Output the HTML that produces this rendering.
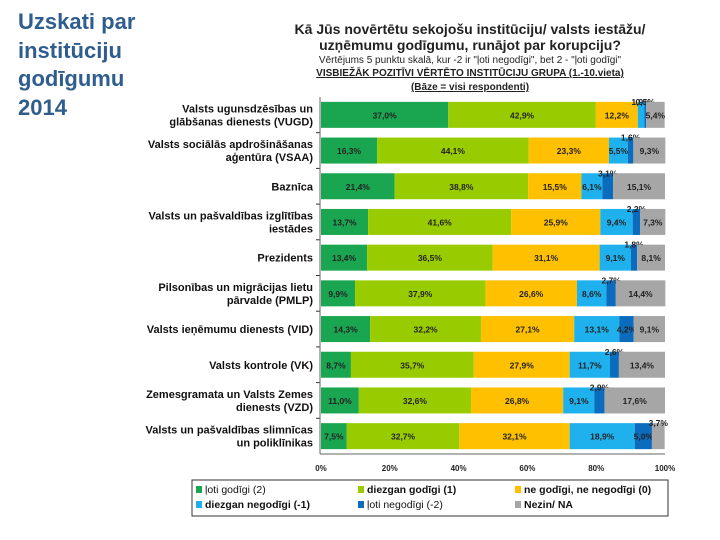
<!DOCTYPE html>
<html><head><meta charset="utf-8">
<style>
body{margin:0;background:#fff;width:720px;height:540px;overflow:hidden;font-family:"Liberation Sans",sans-serif}
#side{position:absolute;left:18px;top:8px;color:#2f5e8e;font-weight:bold;font-size:22px;line-height:28.5px}
</style></head><body>
<div id="side">Uzskati par<br>institūciju<br>godīgumu<br>2014</div>
<svg id="c" width="720" height="540" style="position:absolute;left:0;top:0">
<g font-family="Liberation Sans, sans-serif" text-anchor="middle" fill="#222">
<text x="470" y="34" font-size="14" font-weight="bold">Kā Jūs novērtētu sekojošu institūciju/ valsts iestāžu/</text>
<text x="470" y="50" font-size="14" font-weight="bold">uzņēmumu godīgumu, runājot par korupciju?</text>
<text x="470" y="63" font-size="10">Vērtējums 5 punktu skalā, kur -2 ir "ļoti negodīgi", bet 2 - "ļoti godīgi"</text>
<text x="470" y="76" font-size="10" font-weight="bold" text-decoration="underline">VISBIEŽĀK POZITĪVI VĒRTĒTO INSTITŪCIJU GRUPA (1.-10.vieta)</text>
<text x="470" y="90" font-size="10" font-weight="bold" text-decoration="underline">(Bāze = visi respondenti)</text>
</g>
<g id="plot"></g>
<g id="legend" font-family="Liberation Sans, sans-serif" font-size="10.5" fill="#111">
<rect x="192" y="480" width="476" height="36" fill="#fff" stroke="#333" stroke-width="1"/>
</g>
</svg>
<script>
const categories=["Valsts ugunsdzēsības un|glābšanas dienests (VUGD)","Valsts sociālās apdrošināšanas|aģentūra (VSAA)","Baznīca","Valsts un pašvaldības izglītības|iestādes","Prezidents","Pilsonības un migrācijas lietu|pārvalde (PMLP)","Valsts ieņēmumu dienests (VID)","Valsts kontrole (VK)","Zemesgramata un Valsts Zemes|dienests (VZD)","Valsts un pašvaldības slimnīcas|un poliklīnikas"];
const veryHonest=[37.0,16.3,21.4,13.7,13.4,9.9,14.3,8.7,11.0,7.5];
const fairlyHonest=[42.9,44.1,38.8,41.6,36.5,37.9,32.2,35.7,32.6,32.7];
const neutral=[12.2,23.3,15.5,25.9,31.1,26.6,27.1,27.9,26.8,32.1];
const fairlyDishonest=[1.9,5.5,6.1,9.4,9.1,8.6,13.1,11.7,9.1,18.9];
const veryDishonest=[0.5,1.6,3.1,2.2,1.8,2.7,4.2,2.6,2.9,5.0];
const dontKnow=[5.4,9.3,15.1,7.3,8.1,14.4,9.1,13.4,17.6,3.7];
const seriesNames=["ļoti godīgi (2)","diezgan godīgi (1)","ne godīgi, ne negodīgi (0)","diezgan negodīgi (-1)","ļoti negodīgi (-2)","Nezin/ NA"];
const xTicks=[0,20,40,60,80,100];
const series=[veryHonest,fairlyHonest,neutral,fairlyDishonest,veryDishonest,dontKnow];
const colors=["#1aa650","#99cc00","#ffc000","#1fb1ee","#0b6bbd","#a6a6a6"];
const NS="http://www.w3.org/2000/svg";
const X0=321,X1=665,Y0=97,Y1=454;
const n=categories.length,band=(Y1-Y0)/n,bh=26;
const xs=v=>X0+(X1-X0)*v/100;
const yc=i=>Y0+band*(i+0.5);
const plot=document.getElementById('plot');
function mk(t,a,p){const e=document.createElementNS(NS,t);for(const k in a)e.setAttribute(k,a[k]);(p||plot).appendChild(e);return e;}
const fmt=v=>v.toFixed(1).replace('.',',')+'%';
categories.forEach((c,i)=>{
  let acc=0;
  series.forEach((s,j)=>{
    const v=s[i];
    const r=mk('rect',{x:xs(acc),y:yc(i)-bh/2,width:xs(acc+v)-xs(acc),height:bh,fill:colors[j]});
    
    
    const mid=xs(acc+v/2);
    const small=v<4;
    const t=mk('text',{x:mid,y:small?yc(i)-bh/2+3:yc(i)+3.5,'font-size':8.5,'font-weight':'bold','text-anchor':'middle',fill:'#222','font-family':'Liberation Sans, sans-serif'});
    t.textContent=fmt(v);
    
    
    acc+=v;
  });
  const lines=c.split('|');
  lines.forEach((ln,k)=>{
    const t=mk('text',{x:313,y:yc(i)+4+(k-(lines.length-1)/2)*13,'font-size':11,'font-weight':'bold','text-anchor':'end',fill:'#111','font-family':'Liberation Sans, sans-serif'});
    t.textContent=ln;
    
    
  });
  if(i>0){mk('line',{x1:316,x2:320,y1:Y0+band*i,y2:Y0+band*i,stroke:'#333'});}
});
mk('line',{x1:X0-1,x2:X0-1,y1:Y0,y2:Y1,stroke:'#666'});
mk('line',{x1:X0-1,x2:X1,y1:Y1,y2:Y1,stroke:'#666'});
xTicks.forEach(v=>{
  const t=mk('text',{x:xs(v),y:471,'font-size':8,'font-weight':'bold','text-anchor':'middle',fill:'#222','font-family':'Liberation Sans, sans-serif'});
  t.textContent=v+'%';
  
  
});
const lg=document.getElementById('legend');
const lx=[196,358,515];
seriesNames.forEach((nm,j)=>{
  const x=lx[j%3],y=j<3?493:508;
  const r=mk('rect',{x:x,y:y-7,width:6,height:7,fill:colors[j]},lg);
  
  
  const t=mk('text',{x:x+9,y:y,'font-weight':j==1||j==2||j==3||j==5?'bold':'normal'},lg);
  t.textContent=nm;
  
  
});
</script>
</body></html>
